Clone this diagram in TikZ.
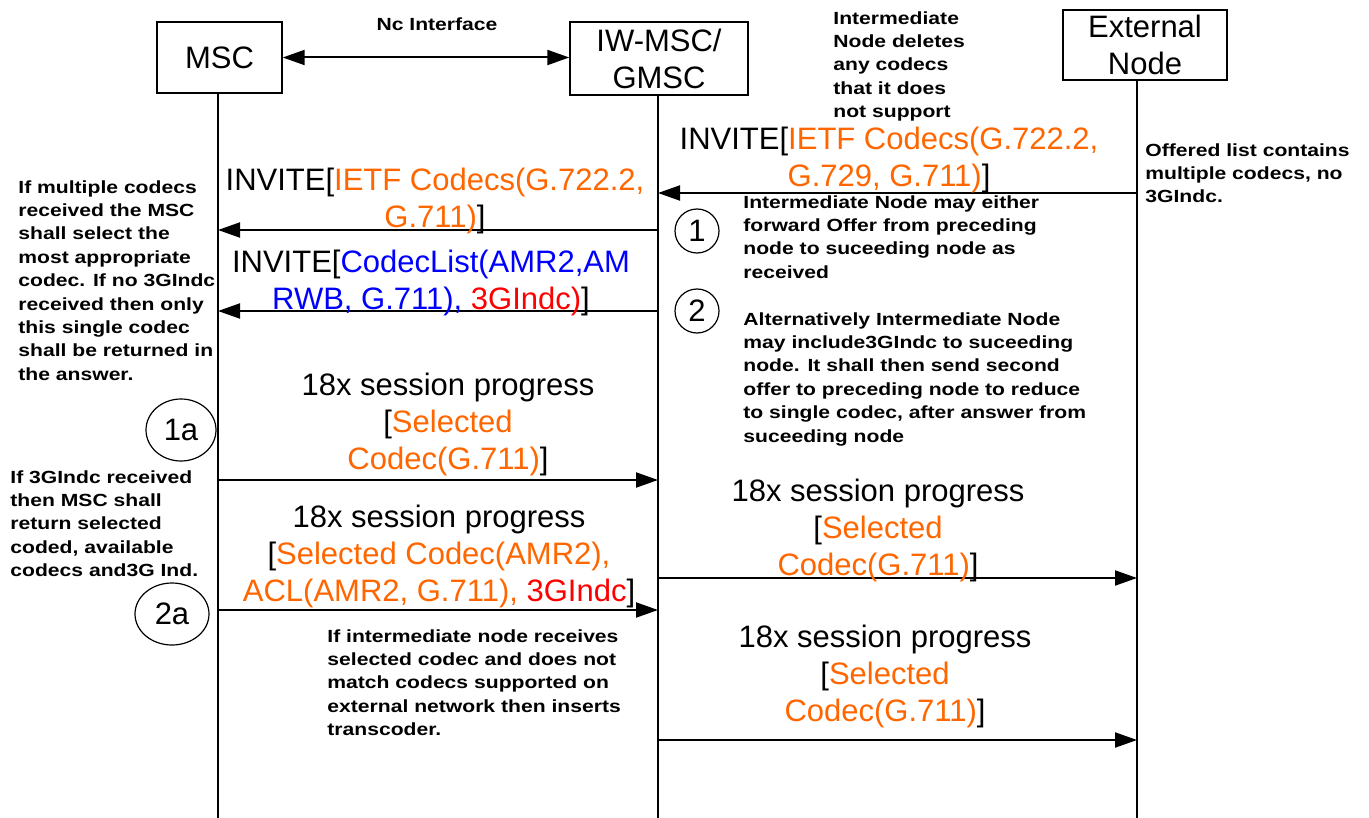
\documentclass[tikz,border=0pt]{standalone}
\usepackage{fontspec}
\setmainfont{Liberation Sans}
\newfontfamily\notefam[FakeStretch=1.2]{Liberation Sans}
\usetikzlibrary{arrows.meta}
\definecolor{codeorange}{RGB}{255,102,0}
\definecolor{codeblue}{RGB}{0,0,255}
\definecolor{codered}{RGB}{255,0,0}
\newcommand\myMsgFont{\fontsize{15.5}{18.5}\selectfont}
\newcommand\myNoteFont{\notefam\bfseries\fontsize{8.8}{11.7}\selectfont}
\newcommand\cO[1]{\textcolor{codeorange}{#1}}
\newcommand\cB[1]{\textcolor{codeblue}{#1}}
\newcommand\cR[1]{\textcolor{codered}{#1}}
\tikzset{
  entity/.style={draw,line width=0.7pt,inner sep=0pt,align=center,font=\myMsgFont},
  lifeline/.style={line width=0.6pt},
  msg/.style={line width=1pt,-{Triangle[length=11pt,width=7.5pt]}},
  msgtext/.style={inner sep=0pt,align=center,font=\myMsgFont},
  note/.style={inner sep=0pt,align=left,anchor=north west,font=\myNoteFont},
  marker/.style={draw,ellipse,line width=0.6pt,inner sep=0pt,font=\myMsgFont},
}
\usetikzlibrary{shapes.geometric}
\begin{document}
\begin{tikzpicture}[x=0.5pt,y=-0.5pt]
\useasboundingbox (0,0) rectangle (1369,818);
% entities
\node[entity,minimum width=62.5pt,minimum height=35.5pt] (msc) at (219.5,57.5) {MSC};
\node[entity,minimum width=89pt,minimum height=36.5pt] (iw) at (659,58.5) {IW-MSC/\\GMSC};
\node[entity,minimum width=82pt,minimum height=35pt] (ext) at (1145,45) {External\\Node};
% lifeline ends
\coordinate (mscEnd) at (218,818);
\coordinate (iwEnd) at (658,818);
\coordinate (extEnd) at (1137,818);
\draw[lifeline] (msc.south -| mscEnd) -- (mscEnd);
\draw[lifeline] (iw.south -| iwEnd) -- (iwEnd);
\draw[lifeline] (ext.south -| extEnd) -- (extEnd);
% Nc interface
\draw[line width=1pt,{Triangle[length=11pt,width=7.5pt]}-{Triangle[length=11pt,width=7.5pt]}] (msc.east) -- (iw.west |- msc.east);
\node[font=\myNoteFont,inner sep=0pt] (nc) at (437,24) {Nc Interface};
% notes
\node[note] (n1) at (833,11) {Intermediate\\Node deletes\\any codecs\\that it does\\not support};
\node[note] (n2) at (1145,143) {Offered list contains\\multiple codecs, no\\3GIndc.};
\node[note] (n3) at (743,195) {Intermediate Node may either\\forward Offer from preceding\\node to suceeding node as\\received};
\node[note] (n4) at (743,312) {Alternatively Intermediate Node\\may include3GIndc to suceeding\\node. It shall then send second\\offer to preceding node to reduce\\to single codec, after answer from\\suceeding node};
\node[note] (n5) at (18,180) {If multiple codecs\\received the MSC\\shall select the\\most appropriate\\codec. If no 3GIndc\\received then only\\this single codec\\shall be returned in\\the answer.};
\node[note] (n6) at (10,470) {If 3GIndc received\\then MSC shall\\return selected\\coded, available\\codecs and3G Ind.};
\node[note] (n7) at (327,629) {If intermediate node receives\\selected codec and does not\\match codecs supported on\\external network then inserts\\transcoder.};
% markers
\node[marker,minimum width=22pt,minimum height=22pt] (m1) at (697,231) {1};
\node[marker,minimum width=22pt,minimum height=22pt] (m2) at (697,311) {2};
\node[marker,minimum width=35pt,minimum height=31pt] (m1a) at (181,430) {1a};
\node[marker,minimum width=37pt,minimum height=31pt] (m2a) at (172,614) {2a};
% message endpoints
\coordinate (a1s) at (1137,193); \coordinate (a1e) at (658,193);
\coordinate (a2s) at (658,230);  \coordinate (a2e) at (218,230);
\coordinate (a3s) at (658,311);  \coordinate (a3e) at (218,311);
\coordinate (a4s) at (218,480);  \coordinate (a4e) at (658,480);
\coordinate (a5s) at (218,610);  \coordinate (a5e) at (658,610);
\coordinate (a6s) at (658,578);  \coordinate (a6e) at (1137,578);
\coordinate (a7s) at (658,740);  \coordinate (a7e) at (1137,740);
\draw[msg] (a1s) -- (a1e);
\draw[msg] (a2s) -- (a2e);
\draw[msg] (a3s) -- (a3e);
\draw[msg] (a4s) -- (a4e);
\draw[msg] (a5s) -- (a5e);
\draw[msg] (a6s) -- (a6e);
\draw[msg] (a7s) -- (a7e);
% message texts
\node[msgtext] (t1) at (889,160) {INVITE[\cO{IETF Codecs(G.722.2,}\\\cO{G.729, G.711)}]};
\node[msgtext] (t2) at (435,201) {INVITE[\cO{IETF Codecs(G.722.2,}\\\cO{G.711)}]};
\node[msgtext] (t3) at (431,283) {INVITE[\cB{CodecList(AMR2,AM}\\\cB{RWB, G.711), }\cR{3GIndc)}]};
\node[msgtext] (t4) at (448,424) {18x session progress\\{[}\cO{Selected}\\\cO{Codec(G.711)}]};
\node[msgtext] (t5) at (439,556) {18x session progress\\{[}\cO{Selected Codec(AMR2),}\\\cO{ACL(AMR2, G.711), }\cR{3GIndc}]};
\node[msgtext] (t6) at (878,530) {18x session progress\\{[}\cO{Selected}\\\cO{Codec(G.711)}]};
\node[msgtext] (t7) at (885,676) {18x session progress\\{[}\cO{Selected}\\\cO{Codec(G.711)}]};
\end{tikzpicture}
\end{document}
